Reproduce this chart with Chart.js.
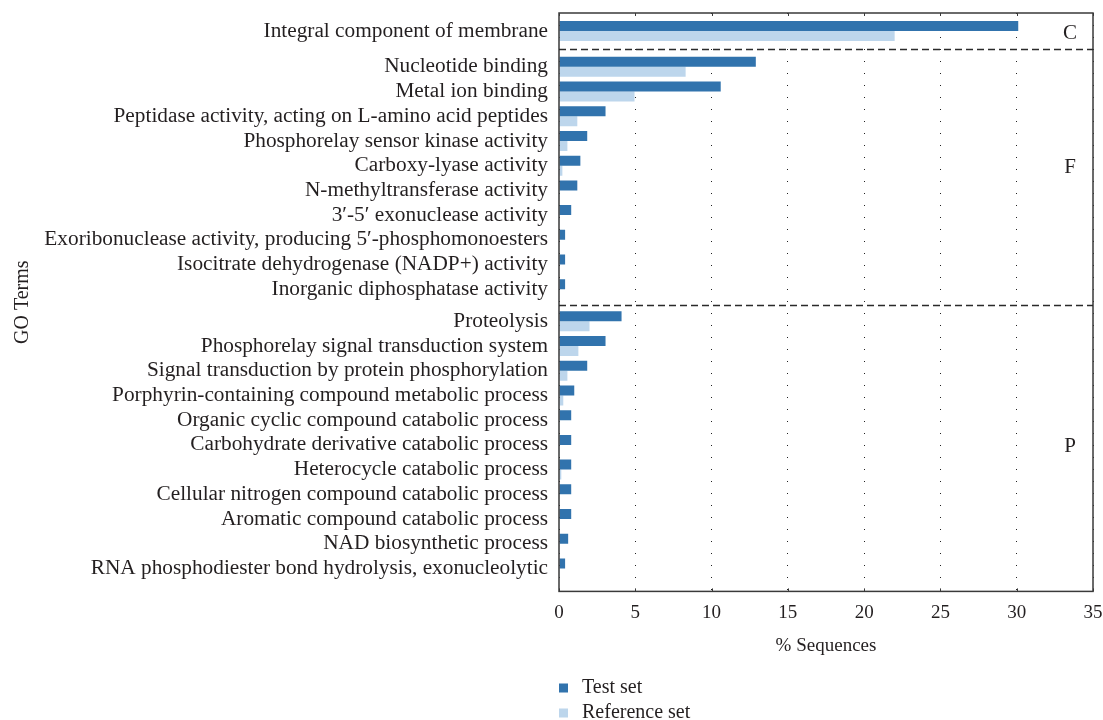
<!DOCTYPE html>
<html>
<head>
<meta charset="utf-8">
<script src="https://cdn.jsdelivr.net/npm/chart.js@4"></script>
<style>
  html, body { margin: 0; padding: 0; background: #fff; }
  #wrap { width: 1103px; height: 720px; }
</style>
</head>
<body>
<div id="wrap"><canvas id="go-chart"></canvas></div>
<script>
// GO term groups (C / F / P)
const groupNames = ['C', 'F', 'P'];

const termsC = ['Integral component of membrane'];
const testC  = [30.1];
const refC   = [22.0];

const termsF = [
  'Nucleotide binding',
  'Metal ion binding',
  'Peptidase activity, acting on L-amino acid peptides',
  'Phosphorelay sensor kinase activity',
  'Carboxy-lyase activity',
  'N-methyltransferase activity',
  '3\u2032-5\u2032 exonuclease activity',
  'Exoribonuclease activity, producing 5\u2032-phosphomonoesters',
  'Isocitrate dehydrogenase (NADP+) activity',
  'Inorganic diphosphatase activity'
];
const testF = [12.9, 10.6, 3.05, 1.85, 1.4, 1.2, 0.8, 0.4, 0.4, 0.4];
const refF  = [8.3, 4.95, 1.2, 0.55, 0.22, 0.05, 0.05, 0.03, 0.03, 0.03];

const termsP = [
  'Proteolysis',
  'Phosphorelay signal transduction system',
  'Signal transduction by protein phosphorylation',
  'Porphyrin-containing compound metabolic process',
  'Organic cyclic compound catabolic process',
  'Carbohydrate derivative catabolic process',
  'Heterocycle catabolic process',
  'Cellular nitrogen compound catabolic process',
  'Aromatic compound catabolic process',
  'NAD biosynthetic process',
  'RNA phosphodiester bond hydrolysis, exonucleolytic'
];
const testP = [4.1, 3.05, 1.85, 1.0, 0.8, 0.8, 0.8, 0.8, 0.8, 0.6, 0.4];
const refP  = [2.0, 1.27, 0.55, 0.28, 0.05, 0.05, 0.15, 0.05, 0.05, 0.05, 0.05];

const seriesNames = ['Test set', 'Reference set'];
const xTicks = [0, 5, 10, 15, 20, 25, 30, 35];

// ----------------------------------------------
// build slot positions (extra space between groups)
// ----------------------------------------------
const groupTerms = [termsC, termsF, termsP];
const groupTest  = [testC, testF, testP];
const groupRef   = [refC, refF, refP];
const groupGap   = [0, 0.45, 0.3];

const labels = [], slots = [], testData = [], refData = [];
const groupMid = [], groupSep = [];
let pos = 0;
groupTerms.forEach((terms, g) => {
  if (g > 0) {
    pos += groupGap[g];
    groupSep.push(pos - (1 + groupGap[g]) / 2);
  }
  terms.forEach((t, i) => {
    if (i === Math.floor((terms.length - 1) / 2)) groupMid.push(pos);
    labels.push(t);
    slots.push(pos);
    testData.push({ x: groupTest[g][i], y: pos });
    refData.push({ x: groupRef[g][i], y: pos });
    pos += 1;
  });
});
const yMin = -0.73;
const yMax = slots[slots.length - 1] + 0.93;

const TEXT = '#231f20';
const COL_TEST = '#3173ad';
const COL_REF  = '#bdd6ec';
const PAD_LEFT = 11;
const AXIS_LEFT = 559;   // y-axis width is set so the plot starts here
Chart.defaults.font.family = '"Liberation Serif", "DejaVu Serif", serif';
Chart.defaults.color = TEXT;

// frame, dashed group separators, group letters, inner ticks
const framePlugin = {
  id: 'frame',
  afterDatasetsDraw(chart) {
    const { ctx, chartArea: a, scales: { x, y } } = chart;
    ctx.save();
    ctx.strokeStyle = '#3a3a3a';
    ctx.lineWidth = 1.5;
    ctx.strokeRect(a.left, a.top, a.right - a.left, a.bottom - a.top);
    // inward ticks top/bottom
    ctx.lineWidth = 1;
    xTicks.forEach(v => {
      const px = Math.round(x.getPixelForValue(v)) + 0.5;
      ctx.beginPath();
      ctx.moveTo(px, a.bottom); ctx.lineTo(px, a.bottom - 3);
      ctx.moveTo(px, a.top);    ctx.lineTo(px, a.top + 3);
      ctx.stroke();
    });
    // dashed separators
    ctx.setLineDash([7, 4]);
    ctx.lineWidth = 1.3;
    ctx.strokeStyle = '#2a2a2a';
    groupSep.forEach(v => {
      const py = Math.round(y.getPixelForValue(v)) + 0.5;
      ctx.beginPath();
      ctx.moveTo(a.left, py); ctx.lineTo(a.right, py);
      ctx.stroke();
    });
    ctx.setLineDash([]);
    // group letters
    ctx.fillStyle = TEXT;
    ctx.font = '21px "Liberation Serif", serif';
    ctx.textAlign = 'center';
    ctx.textBaseline = 'middle';
    groupNames.forEach((n, g) => {
      ctx.fillText(n, a.right - 23, y.getPixelForValue(groupMid[g]) + 2);
    });
    ctx.restore();
  },
  afterDraw(chart) {
    // legend, two rows under the x-axis
    const { ctx, chartArea: a, scales: { x } } = chart;
    ctx.save();
    ctx.font = '20px "Liberation Serif", serif';
    ctx.textAlign = 'left';
    ctx.textBaseline = 'middle';
    chart.data.datasets.forEach((ds, i) => {
      const cy = x.bottom + 31 + i * 25;
      ctx.fillStyle = ds.backgroundColor;
      ctx.fillRect(a.left, cy - 4.5, 9, 9);
      ctx.fillStyle = TEXT;
      ctx.fillText(ds.label, a.left + 23, cy);
    });
    ctx.restore();
  }
};

new Chart(document.getElementById('go-chart'), {
  type: 'bar',
  data: {
    datasets: [
      { label: seriesNames[0], data: testData, backgroundColor: COL_TEST },
      { label: seriesNames[1], data: refData,  backgroundColor: COL_REF }
    ]
  },
  options: {
    indexAxis: 'y',
    responsive: true,
    maintainAspectRatio: false,
    animation: false,
    categoryPercentage: 0.81,
    barPercentage: 1.0,
    layout: { padding: { top: 13, right: 10, bottom: 63, left: PAD_LEFT } },
    plugins: {
      legend: { display: false },
      tooltip: { enabled: false }
    },
    scales: {
      x: {
        type: 'linear',
        min: 0,
        max: 35,
        afterFit(scale) { scale.paddingLeft = 0; scale.paddingRight = 0; },
        ticks: { stepSize: 5, padding: 10, font: { size: 19 }, color: TEXT },
        grid: {
          color: '#222',
          lineWidth: 1,
          drawTicks: false
        },
        border: { display: false, dash: [1, 11] },
        title: {
          display: true,
          text: '% Sequences',
          font: { size: 19 },
          color: TEXT,
          padding: { top: 0, bottom: 0 }
        }
      },
      y: {
        type: 'linear',
        reverse: true,
        offset: false,
        bounds: 'data',
        min: yMin,
        max: yMax,
        afterBuildTicks(scale) {
          scale.ticks = slots.map(v => ({ value: v }));
        },
        afterFit(scale) {
          scale.paddingTop = 0;
          scale.paddingBottom = 0;
          scale.width = AXIS_LEFT - PAD_LEFT;
        },
        ticks: {
          autoSkip: false,
          minRotation: 0,
          maxRotation: 0,
          padding: 11,
          font: { size: 21.3 },
          color: TEXT,
          callback(value, index) { return labels[index]; }
        },
        grid: { display: false, drawTicks: false },
        border: { display: false },
        title: {
          display: true,
          text: 'GO Terms',
          font: { size: 20 },
          color: TEXT,
          padding: { top: 0, bottom: 5 }
        }
      }
    }
  },
  plugins: [framePlugin]
});
</script>
</body>
</html>
